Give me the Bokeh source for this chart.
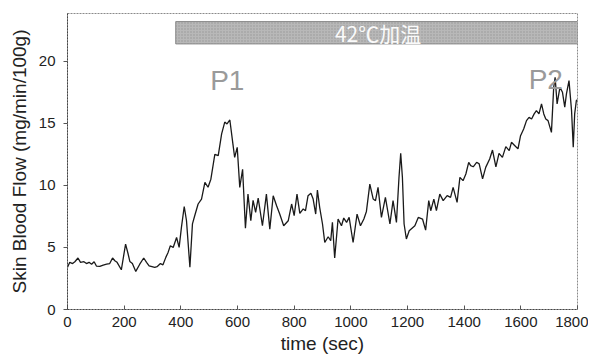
from bokeh.plotting import figure
from bokeh.models import Range1d, FixedTicker
from bokeh.core.properties import value
from bokeh.embed import file_html
from bokeh.resources import INLINE

# --- data ---
time_sec = [0, 8, 18, 26, 37, 46, 58, 67, 76, 85, 94, 102, 114, 126, 138, 149, 159, 167, 175,
            190, 205, 214, 220, 229, 241, 255, 269, 279, 288, 308, 316, 328, 337, 347, 355, 363,
            373, 385, 394, 402, 412, 420, 432, 441, 449, 461, 473, 485, 496, 506, 520, 532, 544,
            555, 563, 573, 584, 590, 599, 608, 618, 628, 637, 647, 655, 664, 673, 688, 702, 714,
            726, 738, 749, 763, 779, 791, 800, 810, 820, 832, 840, 849, 859, 867, 876, 882, 890,
            900, 908, 920, 929, 935, 943, 955, 967, 975, 985, 994, 1008, 1022, 1034, 1046, 1055,
            1067, 1079, 1087, 1096, 1108, 1122, 1138, 1149, 1161, 1170, 1176, 1182, 1188, 1196,
            1206, 1226, 1238, 1253, 1264, 1275, 1282, 1293, 1302, 1314, 1326, 1340, 1352, 1361,
            1375, 1385, 1396, 1406, 1416, 1423, 1432, 1444, 1453, 1465, 1476, 1490, 1500, 1512,
            1523, 1535, 1547, 1559, 1567, 1579, 1590, 1599, 1610, 1620, 1629, 1638, 1647, 1655,
            1664, 1673, 1681, 1688, 1696, 1708, 1716, 1721, 1728, 1738, 1747, 1755, 1761, 1770,
            1779, 1785, 1790, 1796, 1800]
blood_flow = [3.4, 3.8, 3.7, 3.85, 4.15, 3.8, 3.85, 3.7, 3.8, 3.65, 3.85, 3.5, 3.47, 3.58, 3.65,
              3.7, 4.15, 3.93, 3.8, 3.2, 5.27, 4.47, 3.87, 3.7, 3.07, 3.65, 4.15, 3.8, 3.52, 3.4,
              3.45, 3.7, 3.6, 4.2, 4.6, 5.14, 5.0, 5.8, 5.0, 6.6, 8.3, 7.15, 3.4, 6.9, 7.55, 8.5,
              8.9, 10.25, 9.85, 10.5, 12.5, 12.4, 14.15, 15.1, 14.95, 15.27, 13.3, 12.25, 13.07,
              9.84, 11.3, 6.55, 9.3, 7.15, 8.8, 7.82, 8.98, 6.75, 9.3, 6.48, 9.17, 8.36, 7.69,
              6.75, 7.15, 8.5, 7.56, 9.3, 7.74, 8.1, 7.96, 9.17, 9.36, 8.9, 7.69, 9.63, 8.23,
              6.89, 5.4, 5.86, 5.54, 7.02, 4.15, 7.29, 6.75, 7.37, 7.02, 7.42, 5.4, 7.69, 6.75,
              7.29, 7.9, 10.1, 8.9, 8.77, 9.84, 7.42, 9.03, 6.89, 8.77, 7.02, 10.65, 12.58, 10.65,
              6.89, 5.68, 6.35, 6.75, 7.42, 7.29, 6.4, 8.77, 7.96, 8.9, 7.96, 9.3, 8.77, 9.17,
              9.03, 9.84, 8.63, 10.65, 10.38, 10.92, 11.86, 11.59, 11.5, 11.86, 11.73, 10.52,
              11.45, 12.13, 12.85, 11.5, 12.58, 12.26, 13.12, 12.8, 13.47, 13.2, 12.94, 14.0,
              14.55, 15.22, 15.48, 15.35, 15.76, 16.02, 15.76, 16.56, 15.76, 15.35, 15.22, 14.27,
              17.9, 18.7, 16.56, 17.9, 17.5, 16.3, 17.37, 18.44, 16.02, 13.07, 15.76, 16.83, 16.9]

x_ticks = [0, 200, 400, 600, 800, 1000, 1200, 1400, 1600, 1800]
y_ticks = [0, 5, 10, 15, 20]
heat_label = "42℃加温"
heat_start, heat_end = 382, 1800
heat_bottom, heat_top = 21.4, 23.2
peak_labels = ["P1", "P2"]
peak_x = [564, 1688]
peak_y = [18.45, 18.56]

FONT = "Liberation Sans"

p = figure(width=588, height=358, output_backend="svg", toolbar_location=None,
           x_range=Range1d(0, 1800), y_range=Range1d(0, 23.85),
           min_border_left=67, min_border_right=11, min_border_top=13, min_border_bottom=49)
p.background_fill_color = "white"
p.border_fill_color = "white"
p.outline_line_color = "#8a8a8a"
p.outline_line_dash = "2 1"
p.xgrid.visible = False
p.ygrid.visible = False

# heating bar
p.quad(left=[heat_start], right=[heat_end], bottom=[heat_bottom], top=[heat_top],
       fill_color="#b8b8b8", line_color="#8a8a8a", line_width=1,
       hatch_pattern="dot", hatch_color="#808080", hatch_scale=3, hatch_alpha=0.6)
p.text(x=[(heat_start + heat_end) / 2 + 5], y=[(heat_bottom + heat_top) / 2], text=[heat_label],
       text_font=value("Noto Sans CJK JP"), text_font_size="21px",
       text_align="center", text_baseline="middle", text_color="#fafafa")

# trace
p.line(time_sec, blood_flow, line_color="#1a1a1a", line_width=1.3)

# peak labels
p.text(x=peak_x, y=peak_y, text=peak_labels, text_font=value(FONT), text_font_size="28px",
       text_align="center", text_baseline="middle", text_color="#9a9a9a")

# axes
for ax in (p.xaxis[0], p.yaxis[0]):
    ax.axis_line_color = "#444444"
    ax.axis_line_dash = "2 1"
    ax.major_tick_line_color = "#555555"
    ax.minor_tick_line_color = None
    ax.major_label_text_font = FONT
    ax.major_label_text_font_size = "15px"
    ax.major_label_text_color = "#222222"
    ax.axis_label_text_font = FONT
    ax.axis_label_text_font_style = "normal"
    ax.axis_label_text_color = "#222222"

p.xaxis.ticker = FixedTicker(ticks=x_ticks)
p.yaxis.ticker = FixedTicker(ticks=y_ticks)
p.xaxis.major_tick_in = 4
p.xaxis.major_tick_out = 0
p.yaxis.major_tick_in = 0
p.yaxis.major_tick_out = 4
p.xaxis.major_label_standoff = 7
p.yaxis.major_label_standoff = 8
p.xaxis.axis_label = "time (sec)"
p.yaxis.axis_label = "Skin Blood Flow (mg/min/100g)"
p.xaxis.axis_label_text_font_size = "19px"
p.yaxis.axis_label_text_font_size = "19px"
p.xaxis.axis_label_standoff = 3
p.yaxis.axis_label_standoff = 6

open("out.html", "w").write(file_html(p, INLINE))
